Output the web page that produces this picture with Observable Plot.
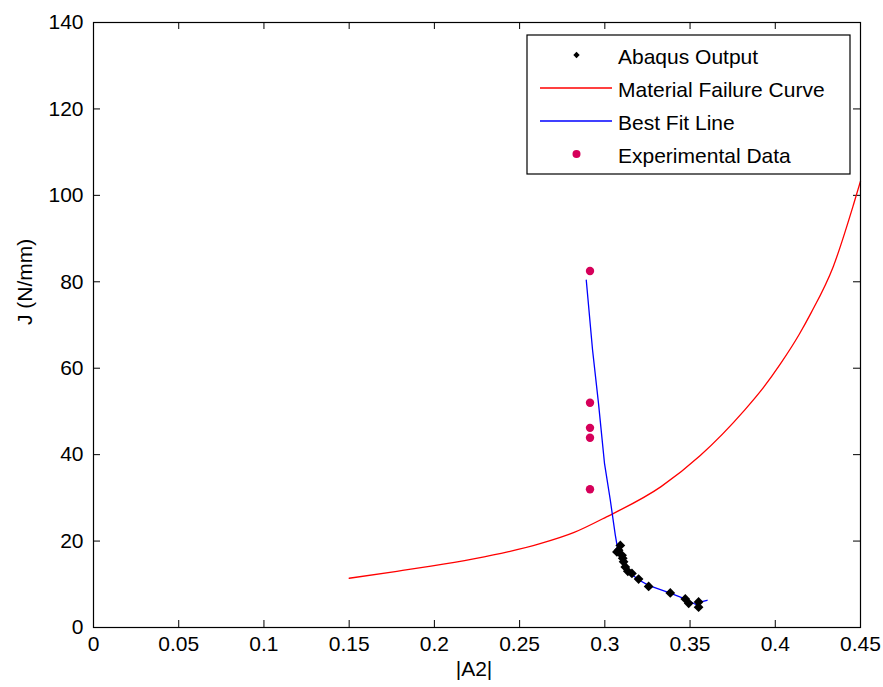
<!DOCTYPE html>
<html>
<head>
<meta charset="utf-8">
<script src="https://cdn.jsdelivr.net/npm/d3@7"></script>
<script src="https://cdn.jsdelivr.net/npm/@observablehq/plot@0.6"></script>
<style>
  html, body { margin: 0; padding: 0; background: #fff; }
</style>
</head>
<body>
<div id="chart"></div>
<script>
// ---- Data ----
const xTicks = [0, 0.05, 0.1, 0.15, 0.2, 0.25, 0.3, 0.35, 0.4, 0.45];
const xTickLabels = ["0", "0.05", "0.1", "0.15", "0.2", "0.25", "0.3", "0.35", "0.4", "0.45"];
const yTicks = [0, 20, 40, 60, 80, 100, 120, 140];
const yTickLabels = ["0", "20", "40", "60", "80", "100", "120", "140"];

const seriesNames = ["Abaqus Output", "Material Failure Curve", "Best Fit Line", "Experimental Data"];

// Abaqus Output points
const abaqusA2 = [0.3071, 0.3081, 0.3091, 0.3101, 0.3105, 0.3110, 0.3120, 0.3135, 0.3159, 0.3198, 0.3257, 0.3384, 0.3472, 0.3492, 0.3550, 0.3550];
const abaqusJ  = [17.5,   17.9,   19.0,   16.7,   16.0,   15.2,   14.0,   13.0,   12.5,   11.2,   9.5,    8.0,    6.6,    5.6,    5.9,    4.7];

// Material Failure Curve
const failA2 = [0.150, 0.178, 0.198, 0.223, 0.243, 0.262, 0.282, 0.301, 0.333, 0.356, 0.382, 0.393, 0.403, 0.414, 0.421, 0.434, 0.446, 0.450];
const failJ  = [11.4,  13.0,  14.2,  15.9,  17.5,  19.4,  22.0,  25.6,  32.6,  39.8,  50.3,  55.5,  61.0,  67.8,  72.8,  83.5,  98.0,  103.3];

// Best Fit Line
const fitA2 = [0.2891, 0.2928, 0.2963, 0.2998, 0.3032, 0.3061, 0.3076, 0.3100, 0.3125, 0.3160, 0.3200, 0.3260, 0.3380, 0.3470, 0.3540, 0.3570, 0.3600];
const fitJ  = [80.4,   64.2,   51.8,   38.0,   29.5,   21.5,   18.0,   15.6,   13.5,   12.2,   11.0,   9.7,    8.0,    6.6,    5.2,    6.0,    6.3];

// Experimental Data
const expA2 = [0.2913, 0.2913, 0.2913, 0.2913, 0.2913];
const expJ  = [82.5,   52.0,   46.2,   43.9,   32.0];

// ---- Build tables ----
const abaqus = abaqusA2.map((x, i) => ({x, y: abaqusJ[i]}));
const fail = failA2.map((x, i) => ({x, y: failJ[i]}));
const fit = fitA2.map((x, i) => ({x, y: fitJ[i]}));
const exp = expA2.map((x, i) => ({x, y: expJ[i]}));

const W = 883, H = 687;
const mL = 93, mR = 23, mT = 22, mB = 60;
const innerW = W - mL - mR, innerH = H - mT - mB;
const tickLen = 7;
const font = "'Liberation Sans', Arial, Helvetica, sans-serif";
const fs = 21;

const red = "#ff0000", blue = "#0000ff", expColor = "#d6005a";

const chart = Plot.plot({
  width: W, height: H,
  marginLeft: mL, marginRight: mR, marginTop: mT, marginBottom: mB,
  style: {fontFamily: font, fontSize: fs + "px", color: "#000", background: "#fff", overflow: "visible"},
  x: {domain: [0, 0.45]},
  y: {domain: [0, 140]},
  marks: [
    Plot.axisX(xTicks, {tickSize: 0, tickPadding: 9, tickFormat: d => xTickLabels[xTicks.indexOf(d)], fontSize: fs, label: null}),
    Plot.axisY(yTicks, {tickSize: 0, tickPadding: 10, tickFormat: d => yTickLabels[yTicks.indexOf(d)], fontSize: fs, label: null}),
    // inward ticks on all four sides
    Plot.tickX(xTicks, {x: d => d, insetTop: innerH - tickLen, stroke: "#000"}),
    Plot.tickX(xTicks, {x: d => d, insetBottom: innerH - tickLen, stroke: "#000"}),
    Plot.tickY(yTicks, {y: d => d, insetRight: innerW - tickLen, stroke: "#000"}),
    Plot.tickY(yTicks, {y: d => d, insetLeft: innerW - tickLen, stroke: "#000"}),
    Plot.line(fail, {x: "x", y: "y", stroke: red, strokeWidth: 1.3, curve: "monotone-x"}),
    Plot.line(fit, {x: "x", y: "y", stroke: blue, strokeWidth: 1.3}),
    Plot.dot(abaqus, {x: "x", y: "y", symbol: "diamond2", r: 4.4, fill: "#000", stroke: "none"}),
    Plot.dot(exp, {x: "x", y: "y", r: 4.2, fill: expColor, stroke: "none"}),
    Plot.frame({stroke: "#000", strokeWidth: 1.2}),
    Plot.text(["J (N/mm)"], {frameAnchor: "left", dx: -68, rotate: -90, fontSize: fs, text: d => d}),
    Plot.text(["|A2|"], {frameAnchor: "bottom", dx: -3, dy: 48, fontSize: fs, text: d => d})
  ]
});

// ---- Legend (inside plot area, top right) ----
const svg = d3.select(chart);
const lg = svg.append("g").attr("font-family", font).attr("font-size", fs).attr("text-anchor", "start");
const box = {x: 527, y: 35, w: 323, h: 139};
lg.append("rect").attr("x", box.x).attr("y", box.y).attr("width", box.w).attr("height", box.h)
  .attr("fill", "#fff").attr("stroke", "#000").attr("stroke-width", 1.2);
const rowBase = 63.5, rowStep = 33;
const lineX1 = 540, lineX2 = 612, markX = 576.5, textX = 618;
seriesNames.forEach((name, i) => {
  const base = rowBase + i * rowStep;
  const cy = base - 8.5;
  if (i === 0) {
    const r = 3.2;
    lg.append("path").attr("d", `M${markX},${cy - r}L${markX + r},${cy}L${markX},${cy + r}L${markX - r},${cy}Z`).attr("fill", "#000");
  } else if (i === 1 || i === 2) {
    lg.append("line").attr("x1", lineX1).attr("x2", lineX2).attr("y1", cy).attr("y2", cy)
      .attr("stroke", i === 1 ? red : blue).attr("stroke-width", 1.3);
  } else {
    lg.append("circle").attr("cx", markX).attr("cy", cy).attr("r", 4).attr("fill", expColor);
  }
  lg.append("text").attr("x", textX).attr("y", base).attr("fill", "#000").attr("text-anchor", "start").text(name);
});

document.getElementById("chart").appendChild(chart);
</script>
</body>
</html>
